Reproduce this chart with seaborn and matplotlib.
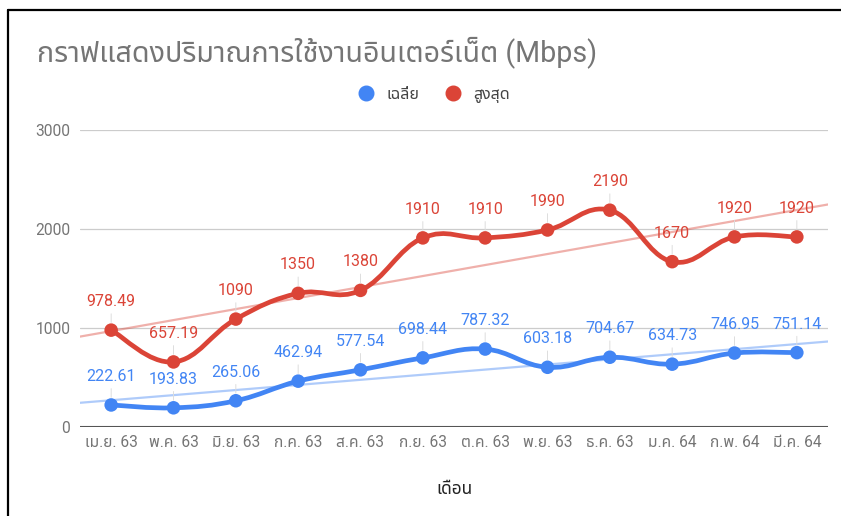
import numpy as np
import pandas as pd
import seaborn as sns
import matplotlib
matplotlib.use("Agg")
import matplotlib.pyplot as plt
from matplotlib.path import Path
from matplotlib.patches import PathPatch
from matplotlib.lines import Line2D

# data
months = ["เม.ย. 63", "พ.ค. 63", "มิ.ย. 63", "ก.ค. 63", "ส.ค. 63", "ก.ย. 63",
          "ต.ค. 63", "พ.ย. 63", "ธ.ค. 63", "ม.ค. 64", "ก.พ. 64", "มี.ค. 64"]
avg_mbps = [222.61, 193.83, 265.06, 462.94, 577.54, 698.44,
            787.32, 603.18, 704.67, 634.73, 746.95, 751.14]
max_mbps = [978.49, 657.19, 1090, 1350, 1380, 1910,
            1910, 1990, 2190, 1670, 1920, 1920]
series_names = ["เฉลี่ย", "สูงสุด"]
y_ticks = [0, 1000, 2000, 3000]

BLUE = "#4285f4"
RED = "#db4437"

sns.set_theme(style="white")
plt.rcParams["font.family"] = ["Roboto", "Noto Sans Thai", "DejaVu Sans"]

df = pd.DataFrame({"idx": np.arange(len(months)), "month": months,
                   "avg": avg_mbps, "max": max_mbps})


def smooth_path(xs, ys, k=0.2):
    # cardinal-spline style bezier through the points (like curveType: function)
    pts = np.column_stack([xs, ys]).astype(float)
    n = len(pts)
    verts = [pts[0]]
    codes = [Path.MOVETO]
    for i in range(n - 1):
        p0 = pts[max(i - 1, 0)]
        p1 = pts[i]
        p2 = pts[i + 1]
        p3 = pts[min(i + 2, n - 1)]
        verts += [p1 + (p2 - p0) * k, p2 - (p3 - p1) * k, p2]
        codes += [Path.CURVE4] * 3
    return Path(verts, codes)


fig = plt.figure(figsize=(8.41, 5.16), dpi=100)
ax = fig.add_axes([80 / 841, 89 / 516, 748 / 841, 297 / 516])
ax.set_xlim(-0.5, len(months) - 0.5)
ax.set_ylim(0, 3000)

# trend lines
for col, c in [("avg", BLUE), ("max", RED)]:
    sns.regplot(data=df, x="idx", y=col, ax=ax, scatter=False, ci=None,
                truncate=False, color=c,
                line_kws=dict(lw=1.6, alpha=0.42, zorder=2))

# smooth lines + points + labels
for col, c in [("avg", BLUE), ("max", RED)]:
    ax.add_patch(PathPatch(smooth_path(df["idx"], df[col]), fill=False,
                           ec=c, lw=3.4, capstyle="round", joinstyle="round",
                           zorder=3))
    sns.scatterplot(data=df, x="idx", y=col, ax=ax, color=c, s=95,
                    edgecolor="none", zorder=4, legend=False)
    for xi, v in zip(df["idx"], df[col]):
        ax.annotate(f"{v:g}", (xi, v), xytext=(0, 20.5), textcoords="offset points",
                    ha="center", va="center", fontsize=11.5, color=c, zorder=5,
                    arrowprops=dict(arrowstyle="-", color="#dddddd", lw=0.7,
                                    shrinkA=1, shrinkB=5.5))

ax.set_xticks(df["idx"])
ax.set_xticklabels(months)
ax.set_yticks(y_ticks)
ax.set_yticklabels([str(t) for t in y_ticks])
ax.tick_params(axis="both", length=0, labelsize=11.2, labelcolor="#757575")
ax.tick_params(axis="x", pad=6)
ax.tick_params(axis="y", pad=7)
ax.grid(axis="y", color="#cccccc", lw=0.9)
ax.grid(axis="x", visible=False)
ax.axhline(0, color="#555555", lw=1.5, zorder=2.5)
sns.despine(ax=ax, left=True, bottom=True)
ax.set_xlabel("")
ax.set_ylabel("")

# title, legend, axis title
fig.text(37 / 841, 1 - 52 / 516, "กราฟแสดงปริมาณการใช้งานอินเตอร์เน็ต (Mbps)",
         fontsize=20.6, color="#757575", ha="left", va="center")
handles = [Line2D([], [], marker="o", ls="", color=c, markersize=10.5)
           for c in (BLUE, RED)]
fig.legend(handles, series_names, loc="center", bbox_to_anchor=(430 / 841, 1 - 95 / 516),
           ncol=2, frameon=False, fontsize=11.5, labelcolor="#444444",
           handletextpad=0.3, columnspacing=1.1)
fig.text(455 / 841, 1 - 490 / 516, "เดือน", fontsize=12.5, color="#222222",
         ha="center", va="center")

# screenshot frame
fig.add_artist(Line2D([8 / 841, 8 / 841], [0, 1 - 10 / 516], color="black", lw=1.6))
fig.add_artist(Line2D([8 / 841, 1], [1 - 10 / 516, 1 - 10 / 516], color="black", lw=1.6))

fig.savefig("out.png", dpi=100)
